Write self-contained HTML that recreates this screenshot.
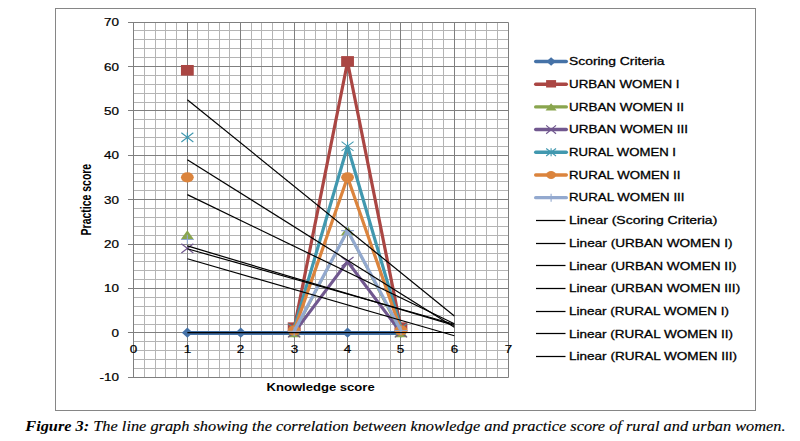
<!DOCTYPE html><html><head><meta charset="utf-8"><title>Figure 3</title><style>html,body{margin:0;padding:0;background:#fff}svg{display:block}text{font-family:"Liberation Sans",sans-serif;stroke:#000;stroke-width:.3px;fill:#000}</style></head><body>
<svg width="800" height="441" viewBox="0 0 800 441">
<rect width="800" height="441" fill="#fff"/>
<rect x="55.5" y="8.5" width="700" height="402" fill="none" stroke="#868686" stroke-width="1"/>
<path d="M144.50 22.50V377.50M155.50 22.50V377.50M165.50 22.50V377.50M176.50 22.50V377.50M197.50 22.50V377.50M208.50 22.50V377.50M219.50 22.50V377.50M229.50 22.50V377.50M251.50 22.50V377.50M261.50 22.50V377.50M272.50 22.50V377.50M283.50 22.50V377.50M304.50 22.50V377.50M315.50 22.50V377.50M326.50 22.50V377.50M336.50 22.50V377.50M358.50 22.50V377.50M368.50 22.50V377.50M379.50 22.50V377.50M390.50 22.50V377.50M411.50 22.50V377.50M422.50 22.50V377.50M432.50 22.50V377.50M443.50 22.50V377.50M465.50 22.50V377.50M475.50 22.50V377.50M486.50 22.50V377.50M497.50 22.50V377.50M133.50 368.50H508.50M133.50 359.50H508.50M133.50 350.50H508.50M133.50 341.50H508.50M133.50 324.50H508.50M133.50 315.50H508.50M133.50 306.50H508.50M133.50 297.50H508.50M133.50 279.50H508.50M133.50 270.50H508.50M133.50 261.50H508.50M133.50 253.50H508.50M133.50 235.50H508.50M133.50 226.50H508.50M133.50 217.50H508.50M133.50 208.50H508.50M133.50 190.50H508.50M133.50 181.50H508.50M133.50 173.50H508.50M133.50 164.50H508.50M133.50 146.50H508.50M133.50 137.50H508.50M133.50 128.50H508.50M133.50 119.50H508.50M133.50 102.50H508.50M133.50 93.50H508.50M133.50 84.50H508.50M133.50 75.50H508.50M133.50 57.50H508.50M133.50 48.50H508.50M133.50 39.50H508.50M133.50 30.50H508.50" stroke="#b4b4b4" stroke-width="1" fill="none"/>
<path d="M133.50 22.50V377.50M187.50 22.50V377.50M240.50 22.50V377.50M294.50 22.50V377.50M347.50 22.50V377.50M400.50 22.50V377.50M454.50 22.50V377.50M508.50 22.50V377.50M128.00 377.50H508.50M128.00 332.50H508.50M128.00 288.50H508.50M128.00 244.50H508.50M128.00 199.50H508.50M128.00 155.50H508.50M128.00 110.50H508.50M128.00 66.50H508.50M128.00 22.50H508.50" stroke="#7f7f7f" stroke-width="1" fill="none"/>
<text x="119.0" y="381.22" font-size="11.6" text-anchor="end" style="stroke-width:.22px" textLength="19.5" lengthAdjust="spacingAndGlyphs">-10</text>
<text x="119.0" y="336.85" font-size="11.6" text-anchor="end" style="stroke-width:.22px" textLength="7.5" lengthAdjust="spacingAndGlyphs">0</text>
<text x="119.0" y="292.47" font-size="11.6" text-anchor="end" style="stroke-width:.22px" textLength="15" lengthAdjust="spacingAndGlyphs">10</text>
<text x="119.0" y="248.10" font-size="11.6" text-anchor="end" style="stroke-width:.22px" textLength="15" lengthAdjust="spacingAndGlyphs">20</text>
<text x="119.0" y="203.72" font-size="11.6" text-anchor="end" style="stroke-width:.22px" textLength="15" lengthAdjust="spacingAndGlyphs">30</text>
<text x="119.0" y="159.35" font-size="11.6" text-anchor="end" style="stroke-width:.22px" textLength="15" lengthAdjust="spacingAndGlyphs">40</text>
<text x="119.0" y="114.97" font-size="11.6" text-anchor="end" style="stroke-width:.22px" textLength="15" lengthAdjust="spacingAndGlyphs">50</text>
<text x="119.0" y="70.60" font-size="11.6" text-anchor="end" style="stroke-width:.22px" textLength="15" lengthAdjust="spacingAndGlyphs">60</text>
<text x="119.0" y="26.22" font-size="11.6" text-anchor="end" style="stroke-width:.22px" textLength="15" lengthAdjust="spacingAndGlyphs">70</text>
<text x="133.5" y="352.8" font-size="11.6" text-anchor="middle" style="stroke-width:.22px" textLength="7.5" lengthAdjust="spacingAndGlyphs">0</text>
<text x="187.5" y="352.8" font-size="11.6" text-anchor="middle" style="stroke-width:.22px" textLength="7.5" lengthAdjust="spacingAndGlyphs">1</text>
<text x="240.5" y="352.8" font-size="11.6" text-anchor="middle" style="stroke-width:.22px" textLength="7.5" lengthAdjust="spacingAndGlyphs">2</text>
<text x="294.5" y="352.8" font-size="11.6" text-anchor="middle" style="stroke-width:.22px" textLength="7.5" lengthAdjust="spacingAndGlyphs">3</text>
<text x="347.5" y="352.8" font-size="11.6" text-anchor="middle" style="stroke-width:.22px" textLength="7.5" lengthAdjust="spacingAndGlyphs">4</text>
<text x="400.5" y="352.8" font-size="11.6" text-anchor="middle" style="stroke-width:.22px" textLength="7.5" lengthAdjust="spacingAndGlyphs">5</text>
<text x="454.5" y="352.8" font-size="11.6" text-anchor="middle" style="stroke-width:.22px" textLength="7.5" lengthAdjust="spacingAndGlyphs">6</text>
<text x="508.5" y="352.8" font-size="11.6" text-anchor="middle" style="stroke-width:.22px" textLength="7.5" lengthAdjust="spacingAndGlyphs">7</text>
<text x="266.5" y="390.6" font-size="11.6" font-weight="bold" style="stroke:none" textLength="108.2" lengthAdjust="spacingAndGlyphs">Knowledge score</text>
<text transform="translate(91.3 235.4) rotate(-90)" font-size="14.3" font-weight="bold" style="stroke:none" textLength="71.6" lengthAdjust="spacingAndGlyphs">Practice score</text>
<g transform="scale(1.0 1)"><polyline points="187.35,332.96 400.95,332.96" fill="none" stroke="#4572A7" stroke-width="4.1" stroke-linejoin="round" stroke-linecap="round"/></g>
<path d="M181.85 332.65L187.35 327.45L192.85 332.65L187.35 337.85Z" fill="#4572A7"/>
<path d="M235.25 332.65L240.75 327.45L246.25 332.65L240.75 337.85Z" fill="#4572A7"/>
<path d="M288.65 332.65L294.15 327.45L299.65 332.65L294.15 337.85Z" fill="#4572A7"/>
<path d="M342.05 332.65L347.55 327.45L353.05 332.65L347.55 337.85Z" fill="#4572A7"/>
<path d="M395.45 332.65L400.95 327.45L406.45 332.65L400.95 337.85Z" fill="#4572A7"/>
<g transform="scale(1.0 1)"><polyline points="294.15,328.21 347.55,61.96 400.95,328.21" fill="none" stroke="#AA4643" stroke-width="3.2" stroke-linejoin="round" stroke-linecap="round"/></g>
<rect x="180.95" y="64.99" width="12.80" height="10.60" fill="#AA4643"/>
<rect x="287.75" y="322.36" width="12.80" height="10.60" fill="#AA4643"/>
<rect x="341.15" y="56.11" width="12.80" height="10.60" fill="#AA4643"/>
<rect x="394.55" y="322.36" width="12.80" height="10.60" fill="#AA4643"/>
<g transform="scale(1.0 1)"><polyline points="294.15,332.65 347.55,230.59 400.95,332.65" fill="none" stroke="#89A54E" stroke-width="2.4000000000000004" stroke-linejoin="round" stroke-linecap="round"/></g>
<path d="M187.35 230.22L193.95 239.62H180.75Z" fill="#89A54E"/>
<path d="M294.15 327.85L300.75 337.25H287.55Z" fill="#89A54E"/>
<path d="M347.55 225.79L354.15 235.19H340.95Z" fill="#89A54E"/>
<path d="M400.95 327.85L407.55 337.25H394.35Z" fill="#89A54E"/>
<g transform="scale(1.0 1)"><polyline points="294.15,332.65 347.55,261.65 400.95,332.65" fill="none" stroke="#71588F" stroke-width="3.2" stroke-linejoin="round" stroke-linecap="round"/></g>
<path d="M181.35 243.74L193.35 252.94M181.35 252.94L193.35 243.74" stroke="#71588F" stroke-width="1.2" fill="none"/>
<path d="M288.15 328.05L300.15 337.25M288.15 337.25L300.15 328.05" stroke="#71588F" stroke-width="1.2" fill="none"/>
<path d="M341.55 257.05L353.55 266.25M341.55 266.25L353.55 257.05" stroke="#71588F" stroke-width="1.2" fill="none"/>
<path d="M394.95 328.05L406.95 337.25M394.95 337.25L406.95 328.05" stroke="#71588F" stroke-width="1.2" fill="none"/>
<g transform="scale(1.0 1)"><polyline points="294.15,328.21 347.55,146.27 400.95,328.21" fill="none" stroke="#4198AF" stroke-width="3.2" stroke-linejoin="round" stroke-linecap="round"/></g>
<path d="M181.35 132.80L193.35 142.00M181.35 142.00L193.35 132.80M187.35 132.60V142.20" stroke="#4198AF" stroke-width="1.1" fill="none"/>
<path d="M288.15 323.61L300.15 332.81M288.15 332.81L300.15 323.61M294.15 323.41V333.01" stroke="#4198AF" stroke-width="1.1" fill="none"/>
<path d="M341.55 141.67L353.55 150.87M341.55 150.87L353.55 141.67M347.55 141.47V151.07" stroke="#4198AF" stroke-width="1.1" fill="none"/>
<path d="M394.95 323.61L406.95 332.81M394.95 332.81L406.95 323.61M400.95 323.41V333.01" stroke="#4198AF" stroke-width="1.1" fill="none"/>
<g transform="scale(1.0 1)"><polyline points="294.15,330.43 347.55,177.34 400.95,330.43" fill="none" stroke="#DB843D" stroke-width="3.2" stroke-linejoin="round" stroke-linecap="round"/></g>
<ellipse cx="187.35" cy="177.34" rx="6.40" ry="5.10" fill="#DB843D"/>
<ellipse cx="294.15" cy="330.43" rx="6.40" ry="5.10" fill="#DB843D"/>
<ellipse cx="347.55" cy="177.34" rx="6.40" ry="5.10" fill="#DB843D"/>
<ellipse cx="400.95" cy="330.43" rx="6.40" ry="5.10" fill="#DB843D"/>
<g transform="scale(1.0 1)"><polyline points="294.15,331.32 347.55,230.59 400.95,330.43" fill="none" stroke="#93A9CF" stroke-width="3.2" stroke-linejoin="round" stroke-linecap="round"/></g>
<path d="M180.95 239.46H193.75M187.35 234.86V244.06" stroke="#93A9CF" stroke-width="1.1" fill="none"/>
<path d="M287.75 331.32H300.55M294.15 326.72V335.92" stroke="#93A9CF" stroke-width="1.1" fill="none"/>
<path d="M341.15 230.59H353.95M347.55 225.99V235.19" stroke="#93A9CF" stroke-width="1.1" fill="none"/>
<path d="M394.55 330.43H407.35M400.95 325.83V335.03" stroke="#93A9CF" stroke-width="1.1" fill="none"/>
<line x1="187.35" y1="99.73" x2="454.35" y2="316.01" stroke="#000" stroke-width="1.2"/>
<line x1="187.35" y1="159.72" x2="454.35" y2="327.32" stroke="#000" stroke-width="1.2"/>
<line x1="187.35" y1="194.60" x2="454.35" y2="323.77" stroke="#000" stroke-width="1.2"/>
<line x1="187.35" y1="245.94" x2="454.35" y2="325.33" stroke="#000" stroke-width="1.2"/>
<line x1="187.35" y1="248.78" x2="454.35" y2="324.22" stroke="#000" stroke-width="1.2"/>
<line x1="187.35" y1="258.72" x2="454.35" y2="335.76" stroke="#000" stroke-width="1.2"/>
<line x1="187.35" y1="332.65" x2="454.35" y2="332.52" stroke="#000" stroke-width="1.2"/>
<line x1="535.7" y1="61.50" x2="566.3" y2="61.50" stroke="#4572A7" stroke-width="3.4" stroke-linecap="round"/>
<path d="M546.26 61.50L551.10 57.34L555.94 61.50L551.10 65.66Z" fill="#4572A7"/>
<text x="569" y="65.35" font-size="11.6" textLength="95.5" lengthAdjust="spacingAndGlyphs">Scoring Criteria</text>
<line x1="535.7" y1="84.19" x2="566.3" y2="84.19" stroke="#AA4643" stroke-width="3.4" stroke-linecap="round"/>
<rect x="546.11" y="80.09" width="9.98" height="7.42" fill="#AA4643"/>
<text x="569" y="88.04" font-size="11.6" textLength="110.5" lengthAdjust="spacingAndGlyphs">URBAN WOMEN I</text>
<line x1="535.7" y1="106.88" x2="566.3" y2="106.88" stroke="#89A54E" stroke-width="3.4" stroke-linecap="round"/>
<path d="M551.10 103.14L556.64 110.47H545.56Z" fill="#89A54E"/>
<text x="569" y="110.73" font-size="11.6" textLength="115" lengthAdjust="spacingAndGlyphs">URBAN WOMEN II</text>
<line x1="535.7" y1="129.57" x2="566.3" y2="129.57" stroke="#71588F" stroke-width="3.4" stroke-linecap="round"/>
<path d="M546.18 125.34L556.02 133.80M546.18 133.80L556.02 125.34" stroke="#71588F" stroke-width="1.2" fill="none"/>
<text x="569" y="133.42" font-size="11.6" textLength="119" lengthAdjust="spacingAndGlyphs">URBAN WOMEN III</text>
<line x1="535.7" y1="152.26" x2="566.3" y2="152.26" stroke="#4198AF" stroke-width="3.4" stroke-linecap="round"/>
<path d="M546.18 148.49L556.02 156.03M546.18 156.03L556.02 148.49M551.10 148.32V156.20" stroke="#4198AF" stroke-width="1.1" fill="none"/>
<text x="569" y="156.11" font-size="11.6" textLength="107" lengthAdjust="spacingAndGlyphs">RURAL WOMEN I</text>
<line x1="535.7" y1="174.95" x2="566.3" y2="174.95" stroke="#DB843D" stroke-width="3.4" stroke-linecap="round"/>
<ellipse cx="551.10" cy="174.95" rx="4.80" ry="3.98" fill="#DB843D"/>
<text x="569" y="178.80" font-size="11.6" textLength="111.5" lengthAdjust="spacingAndGlyphs">RURAL WOMEN II</text>
<line x1="535.7" y1="197.64" x2="566.3" y2="197.64" stroke="#93A9CF" stroke-width="3.4" stroke-linecap="round"/>
<path d="M545.98 197.64H556.22M551.10 193.64V201.64" stroke="#93A9CF" stroke-width="1.1" fill="none"/>
<text x="569" y="201.49" font-size="11.6" textLength="115.5" lengthAdjust="spacingAndGlyphs">RURAL WOMEN III</text>
<line x1="536" y1="220.50" x2="565.5" y2="220.50" stroke="#000" stroke-width="1.25"/>
<text x="569" y="224.18" font-size="11.6" textLength="148.3" lengthAdjust="spacingAndGlyphs">Linear (Scoring Criteria)</text>
<line x1="536" y1="243.50" x2="565.5" y2="243.50" stroke="#000" stroke-width="1.25"/>
<text x="569" y="246.87" font-size="11.6" textLength="163.5" lengthAdjust="spacingAndGlyphs">Linear (URBAN WOMEN I)</text>
<line x1="536" y1="265.50" x2="565.5" y2="265.50" stroke="#000" stroke-width="1.25"/>
<text x="569" y="269.56" font-size="11.6" textLength="167.5" lengthAdjust="spacingAndGlyphs">Linear (URBAN WOMEN II)</text>
<line x1="536" y1="288.50" x2="565.5" y2="288.50" stroke="#000" stroke-width="1.25"/>
<text x="569" y="292.25" font-size="11.6" textLength="171.2" lengthAdjust="spacingAndGlyphs">Linear (URBAN WOMEN III)</text>
<line x1="536" y1="311.50" x2="565.5" y2="311.50" stroke="#000" stroke-width="1.25"/>
<text x="569" y="314.94" font-size="11.6" textLength="160" lengthAdjust="spacingAndGlyphs">Linear (RURAL WOMEN I)</text>
<line x1="536" y1="333.50" x2="565.5" y2="333.50" stroke="#000" stroke-width="1.25"/>
<text x="569" y="337.63" font-size="11.6" textLength="164" lengthAdjust="spacingAndGlyphs">Linear (RURAL WOMEN II)</text>
<line x1="536" y1="356.50" x2="565.5" y2="356.50" stroke="#000" stroke-width="1.25"/>
<text x="569" y="360.32" font-size="11.6" textLength="168" lengthAdjust="spacingAndGlyphs">Linear (RURAL WOMEN III)</text>
<text x="25.3" y="431.4" font-size="15.4" style="font-family:'Liberation Serif',serif;font-style:italic;stroke:#000;stroke-width:.14px" textLength="760.2" lengthAdjust="spacingAndGlyphs"><tspan font-weight="bold" style="stroke:none">Figure 3:</tspan> The line graph showing the correlation between knowledge and practice score of rural and urban women.</text>
</svg></body></html>
